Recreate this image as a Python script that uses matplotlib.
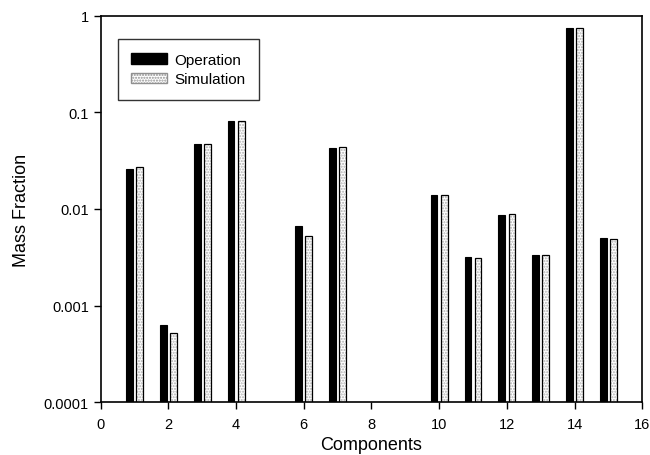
import numpy as np
import matplotlib
matplotlib.use("Agg")
import matplotlib.pyplot as plt
from matplotlib.patches import Patch

# ---------------------------
# DATA
# ---------------------------
components = [1, 2, 3, 4, 6, 7, 10, 11, 12, 13, 14, 15]
operation = [0.026, 0.00063, 0.047, 0.081, 0.0066, 0.043, 0.0138, 0.0032, 0.0087, 0.0033, 0.75, 0.0050]
simulation = [0.027, 0.00052, 0.047, 0.081, 0.0053, 0.044, 0.0138, 0.0031, 0.0089, 0.0033, 0.75, 0.0049]
y_ticks = [0.0001, 0.001, 0.01, 0.1, 1]
y_tick_labels = ["0.0001", "0.001", "0.01", "0.1", "1"]

# ---------------------------
# PLOT
# ---------------------------
plt.rcParams["font.family"] = ["Liberation Sans", "DejaVu Sans"]

fig = plt.figure(figsize=(6.5, 4.56), dpi=100)
ax = fig.add_axes([0.155, 0.116, 0.833, 0.847])

x = np.array(components, dtype=float)
w = 0.2
ax.bar(x - 0.15, operation, width=w, color="black", edgecolor="black", linewidth=0.8)
# dotted fill for simulation, then a black outline on top
ax.bar(x + 0.15, simulation, width=w, color="white", edgecolor="#b0b0b0", hatch="......", linewidth=0)
ax.bar(x + 0.15, simulation, width=w, fill=False, edgecolor="black", linewidth=0.9)

ax.set_yscale("log")
ax.set_ylim(0.0001, 1)
ax.set_xlim(0, 16)
ax.set_xticks(np.arange(0, 17, 2))
ax.set_yticks(y_ticks)
ax.set_yticklabels(y_tick_labels)
ax.yaxis.set_minor_locator(matplotlib.ticker.NullLocator())
ax.tick_params(direction="out", length=5, width=1, labelsize=10.5)
ax.tick_params(axis="x", pad=6)
for s in ax.spines.values():
    s.set_linewidth(1.2)

ax.set_xlabel("Components", fontsize=13, labelpad=3)
ax.set_ylabel("Mass Fraction", fontsize=13, labelpad=10)

handles = [
    Patch(facecolor="black", edgecolor="black", label="Operation"),
    Patch(facecolor="white", edgecolor="#909090", hatch="......", label="Simulation"),
]
leg = ax.legend(handles=handles, loc="upper left", bbox_to_anchor=(0.031, 0.94),
                fontsize=11, frameon=True, fancybox=False, edgecolor="black",
                handlelength=2.35, handleheight=0.65, handletextpad=0.45,
                borderpad=0.9, borderaxespad=0, labelspacing=0.35)
leg.get_frame().set_linewidth(1.0)

fig.savefig("out.png", dpi=100)
